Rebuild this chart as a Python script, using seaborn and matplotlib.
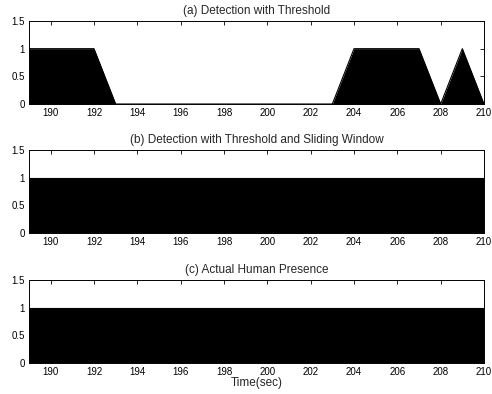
import numpy as np
import pandas as pd
import matplotlib
matplotlib.use("Agg")
import matplotlib.pyplot as plt
import seaborn as sns

# Time axis (seconds) and per-second presence decisions
time_sec = [189, 190, 191, 192, 193, 194, 195, 196, 197, 198, 199,
            200, 201, 202, 203, 204, 205, 206, 207, 208, 209, 210]
threshold_only = [1, 1, 1, 1, 0, 0, 0, 0, 0, 0, 0,
                  0, 0, 0, 0, 1, 1, 1, 1, 0, 1, 0]
threshold_window = [1, 1, 1, 1, 1, 1, 1, 1, 1, 1, 1,
                    1, 1, 1, 1, 1, 1, 1, 1, 1, 1, 1]
actual_presence = [1, 1, 1, 1, 1, 1, 1, 1, 1, 1, 1,
                   1, 1, 1, 1, 1, 1, 1, 1, 1, 1, 1]

titles = ["(a) Detection with Threshold",
          "(b) Detection with Threshold and Sliding Window",
          "(c) Actual Human Presence"]
x_ticks = [190, 192, 194, 196, 198, 200, 202, 204, 206, 208, 210]
y_ticks = [0, 0.5, 1, 1.5]
y_ticklabels = ["0", "0.5", "1", "1.5"]

sns.set_style("white")
plt.rcParams["font.family"] = ["Liberation Sans", "DejaVu Sans"]
plt.rcParams["font.size"] = 7

fig = plt.figure(figsize=(4.92, 3.94), dpi=100)
W, H = 492, 394
# axes boxes in pixel coordinates: left, top, right, bottom
boxes = [(29, 21, 484, 104), (29, 150, 484, 233), (29, 280, 484, 363)]
series = [threshold_only, threshold_window, actual_presence]

for box, vals, title in zip(boxes, series, titles):
    l, t, r, b = box
    ax = fig.add_axes([l / W, 1 - b / H, (r - l) / W, (b - t) / H])
    df = pd.DataFrame({"t": time_sec, "v": vals})
    sns.lineplot(data=df, x="t", y="v", ax=ax, color="black", linewidth=0.8)
    ax.fill_between(df["t"], 0, df["v"], color="black", linewidth=0)
    ax.set_xlim(189, 210)
    ax.set_ylim(0, 1.5)
    ax.set_xticks(x_ticks)
    ax.set_xticklabels([str(x) for x in x_ticks])
    ax.set_yticks(y_ticks)
    ax.set_yticklabels(y_ticklabels)
    ax.set_xlabel("")
    ax.set_ylabel("")
    ax.set_title(title, fontsize=8.5, pad=5)
    ax.tick_params(direction="in", length=3, width=0.6, top=True, right=True,
                   labelsize=7, pad=3, colors="black")
    for s in ax.spines.values():
        s.set_visible(True)
        s.set_color("black")
        s.set_linewidth(0.7)

ax.set_xlabel("Time(sec)", fontsize=8.5, labelpad=0)

fig.savefig("out.png", dpi=100, facecolor="white")
